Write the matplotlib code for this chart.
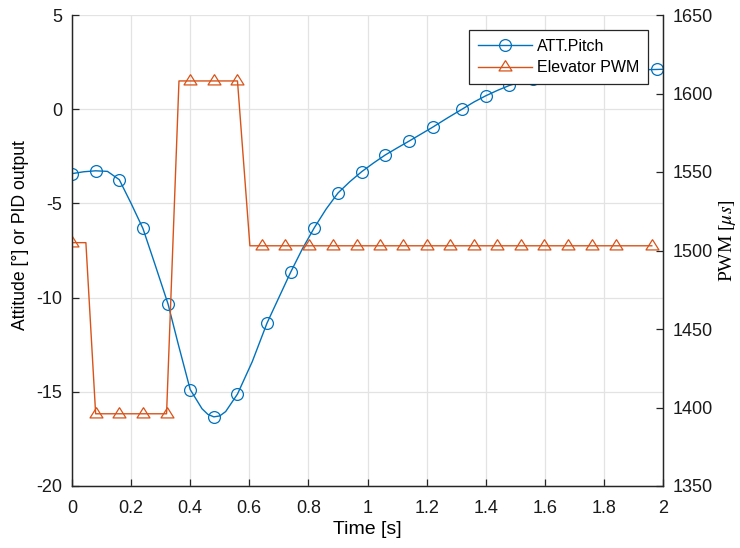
import matplotlib
matplotlib.use('Agg')
import matplotlib.pyplot as plt
import numpy as np

plt.rcParams['font.family'] = ['Liberation Sans', 'DejaVu Sans']
plt.rcParams['mathtext.fontset'] = 'stix'
plt.rcParams['axes.unicode_minus'] = False

# ATT.Pitch (left axis, degrees)
pitch_t = [0.00, 0.04, 0.08, 0.12, 0.16, 0.20, 0.24, 0.28, 0.325, 0.36,
           0.40, 0.44, 0.46, 0.48, 0.50, 0.52, 0.56, 0.61, 0.66, 0.70,
           0.74, 0.78, 0.82, 0.86, 0.90, 0.94, 0.98, 1.02, 1.06, 1.10,
           1.14, 1.18, 1.22, 1.27, 1.32, 1.36, 1.40, 1.44, 1.48, 1.52,
           1.56, 1.61, 1.66, 1.71, 1.76, 1.81, 1.86, 1.92, 1.98, 2.00]
pitch = [-3.42, -3.32, -3.27, -3.30, -3.74, -5.0, -6.33, -8.2, -10.34, -12.5,
         -14.88, -15.9, -16.2, -16.33, -16.28, -16.05, -15.12, -13.4, -11.35, -10.0,
         -8.65, -7.4, -6.29, -5.30, -4.45, -3.85, -3.32, -2.86, -2.43, -2.06,
         -1.70, -1.33, -0.96, -0.47, 0.0, 0.38, 0.71, 1.00, 1.26, 1.45,
         1.60, 1.74, 1.85, 1.93, 1.99, 2.04, 2.07, 2.09, 2.11, 2.12]
pitch_marks = [0.00, 0.08, 0.16, 0.24, 0.325, 0.40, 0.48, 0.56, 0.66, 0.74,
               0.82, 0.90, 0.98, 1.06, 1.14, 1.22, 1.32, 1.40, 1.48, 1.56,
               1.66, 1.76, 1.86, 1.98]

# Elevator PWM (right axis, microseconds)
pwm_t = [0.00, 0.047, 0.08, 0.12, 0.16, 0.20, 0.24, 0.28, 0.32, 0.362,
         0.40, 0.44, 0.48, 0.52, 0.56, 0.602, 0.642, 0.68, 0.722, 0.76,
         0.803, 0.84, 0.882, 0.92, 0.963, 1.00, 1.042, 1.08, 1.121, 1.16,
         1.20, 1.24, 1.279, 1.32, 1.36, 1.40, 1.437, 1.48, 1.519, 1.56,
         1.598, 1.64, 1.68, 1.72, 1.761, 1.80, 1.84, 1.90, 1.962]
pwm = [1505, 1505, 1396, 1396, 1396, 1396, 1396, 1396, 1396, 1608,
       1608, 1608, 1608, 1608, 1608] + [1503] * 34

xticks = [0, 0.2, 0.4, 0.6, 0.8, 1, 1.2, 1.4, 1.6, 1.8, 2]
xticklabels = ['0', '0.2', '0.4', '0.6', '0.8', '1', '1.2', '1.4', '1.6', '1.8', '2']
left_ticks = [-20, -15, -10, -5, 0, 5]
right_ticks = [1350, 1400, 1450, 1500, 1550, 1600, 1650]

blue = '#0072BD'
orange = '#D95319'
dark = '#262626'

# MATLAB-like triangle centred on its centroid
tri = [(0, 1), (-0.94, -0.5), (0.94, -0.5), (0, 1)]

fig = plt.figure(figsize=(7.4, 5.48), dpi=100)
ax1 = fig.add_axes([72 / 740, 1 - 486 / 548, (663 - 72) / 740, (486 - 15) / 548])
ax2 = ax1.twinx()

mark_idx = [pitch_t.index(t) for t in pitch_marks]
l1, = ax1.plot(pitch_t, pitch, color=blue, lw=1.0, marker='o', ms=8.5,
               mfc='none', mec=blue, mew=0.9, markevery=mark_idx, label='ATT.Pitch')
l2, = ax2.plot(pwm_t, pwm, color=orange, lw=1.0, marker=tri, ms=9.9,
               mfc='none', mec=orange, mew=0.9, markevery=2, label='Elevator PWM')

ax1.set_xlim(0, 2)
ax1.set_ylim(-20, 5)
ax2.set_ylim(1350, 1650)
ax1.set_xticks(xticks)
ax1.set_xticklabels(xticklabels)
ax1.set_yticks(left_ticks)
ax2.set_yticks(right_ticks)

ax1.grid(True, color='#e3e3e3', lw=0.9)
ax1.set_axisbelow(True)

for ax in (ax1, ax2):
    ax.spines['top'].set_visible(False)
    for s in ('left', 'bottom', 'right'):
        ax.spines[s].set_color(dark)
        ax.spines[s].set_linewidth(0.9)
    ax.tick_params(direction='in', length=5, width=0.9, colors=dark,
                   labelsize=13, labelcolor='#1a1a1a')
ax1.tick_params(axis='x', pad=10)
ax1.tick_params(axis='y', pad=7)
ax2.tick_params(axis='y', pad=7)

ax1.set_xlabel('Time [s]', fontsize=14, labelpad=3)
ax1.set_ylabel('Attitude [°] or PID output', fontsize=12.7)
ax1.yaxis.set_label_coords(-0.072, 0.533)
ax2.set_ylabel(r'PWM [$\mu s$]', fontsize=14, family='Liberation Serif')
ax2.yaxis.set_label_coords(1.092, 0.52)

leg = ax2.legend([l1, l2], ['ATT.Pitch', 'Elevator PWM'], loc='upper right',
                 bbox_to_anchor=(0.9746, 0.968), borderaxespad=0, fontsize=11.5,
                 fancybox=False, framealpha=1, edgecolor=dark, handlelength=3.4,
                 handletextpad=0.3, borderpad=0.55, labelspacing=0.4)
leg.get_frame().set_linewidth(0.9)

fig.savefig('out.png', dpi=100)
